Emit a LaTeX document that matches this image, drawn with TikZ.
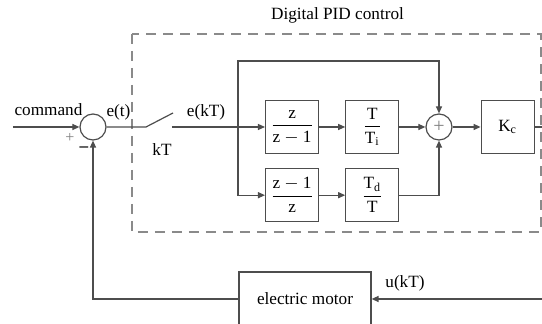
\documentclass[tikz,border=0pt]{standalone}
\usepackage{amsmath}
\usepackage{fontspec}
\setmainfont{Liberation Serif}
\usetikzlibrary{arrows.meta,positioning}
\definecolor{wire}{HTML}{4D4D4D}
\definecolor{dashgray}{HTML}{8A8A8A}

\begin{document}
\begin{tikzpicture}[x=0.5pt,y=0.5pt,node distance=13pt and 13pt,>=Triangle,
    font=\fontsize{8.6}{10}\selectfont,
    block/.style={rectangle,draw=wire,line width=0.6pt,minimum width=26.5pt,minimum height=26.5pt,inner sep=0pt,align=center},
    sumc/.style={circle,draw=wire,line width=0.6pt,minimum size=13pt,inner sep=0pt},
    line/.style={draw=wire,line width=0.6pt,-{Triangle[length=3.5pt,width=3pt]}},
    wireline/.style={draw=wire,line width=0.6pt}]
    \useasboundingbox (-93,-197) rectangle (449,127);
    \draw[dashgray,line width=0.6pt,dash pattern=on 5pt off 3.5pt] (39,93) rectangle (448,-105);
    \node (title) at (244.5,112) {Digital PID control};
    \node[sumc] (sum) at (0,0) {};
    \coordinate (in) at (-80,0);
    \coordinate (sw) at (53,0);
    \coordinate (swe) at (80,14);
    \coordinate (sws) at (79,0);
    \coordinate (br) at (145,0);
    \coordinate (top) at (145,66);
    \node[block,right=13.5pt of br] (b1) {$\dfrac{\text{z}}{\text{z}-\text{1}}$};
    \node[block,right=of b1] (b2) {$\dfrac{\text{T}}{\text{T}_\text{i}}$};
    \node[sumc,right=of b2,text=gray,font=\fontsize{10}{10}\selectfont] (sum2) {+};
    \node[block,right=14pt of sum2] (kc) {K\textsubscript{c}};
    \node[block,below=7pt of b1] (b3) {$\dfrac{\text{z}-\text{1}}{\text{z}}$};
    \node[block,right=of b3] (b4) {$\dfrac{\text{T}_\text{d}}{\text{T}}$};
    \node[block,minimum width=66pt,minimum height=27pt] (motor) at (212,-172) {electric motor};
    \coordinate (kcout) at (449,0);
    \coordinate (fbin) at (449,-172);
    % labels
    \node at (-44.5,17) {command};
    \node[text=gray,font=\fontsize{8}{8}\selectfont] at (-23,-11) {+};
    \node at (-9,-22) {\textbf{–}};
    \node at (25.5,15) {e(t)};
    \node at (113,15) {e(kT)};
    \node at (69,-23) {kT};
    \node at (312,-156) {u(kT)};
    % connectors
    \path[line] (in) -- (sum);
    \path[wireline] (sum) -- (sw) -- (swe);
    \path[line] (sws) -- (br) -- (b1);
    \path[line] (b1) -- (b2); \path[line] (b2) -- (sum2); \path[line] (sum2) -- (kc);
    \path[line] (br) |- (b3); \path[line] (b3) -- (b4); \path[line] (b4) -| (sum2);
    \path[line] (br) -- (top) -| (sum2);
    \path[wireline] (kc) -- (kcout);
    \path[line] (fbin) -- (motor);
    \path[line] (motor) -| (sum);
\end{tikzpicture}
\end{document}
